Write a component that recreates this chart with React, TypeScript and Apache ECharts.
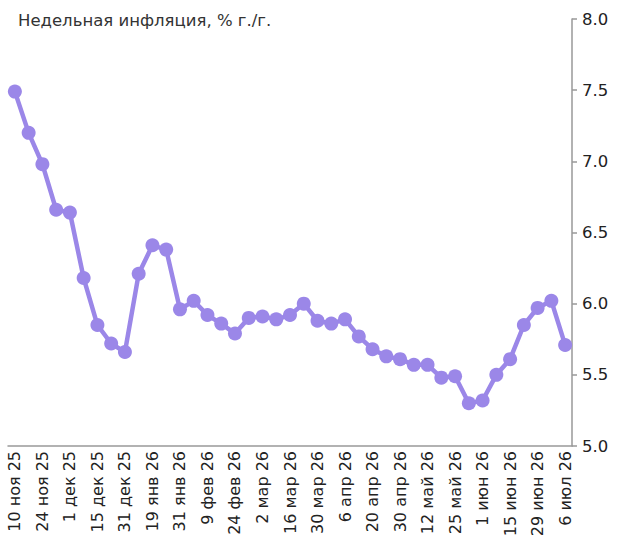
import React, { useEffect, useRef } from "react";
import * as echarts from "echarts";

const TITLE = "Недельная инфляция, % г./г.";

const categories = [
  "10 ноя 25", "17 ноя 25", "24 ноя 25", "27 ноя 25", "1 дек 25", "8 дек 25",
  "15 дек 25", "22 дек 25", "31 дек 25", "12 янв 26", "19 янв 26", "26 янв 26",
  "31 янв 26", "3 фев 26", "9 фев 26", "16 фев 26", "24 фев 26", "27 фев 26",
  "2 мар 26", "9 мар 26", "16 мар 26", "23 мар 26", "30 мар 26", "3 апр 26",
  "6 апр 26", "13 апр 26", "20 апр 26", "27 апр 26", "30 апр 26", "6 май 26",
  "12 май 26", "18 май 26", "25 май 26", "29 май 26", "1 июн 26", "8 июн 26",
  "15 июн 26", "22 июн 26", "29 июн 26", "2 июл 26", "6 июл 26",
];

const inflation = [
  7.49, 7.2, 6.98, 6.66, 6.64, 6.18, 5.85, 5.72, 5.66, 6.21, 6.41, 6.38,
  5.96, 6.02, 5.92, 5.86, 5.79, 5.9, 5.91, 5.89, 5.92, 6.0, 5.88, 5.86,
  5.89, 5.77, 5.68, 5.63, 5.61, 5.57, 5.57, 5.48, 5.49, 5.3, 5.32, 5.5,
  5.61, 5.85, 5.97, 6.02, 5.71,
];

const yTicks = { min: 5, max: 8, interval: 0.5 };

const FONT = "DejaVu Sans";

export default function App() {
  const ref = useRef<HTMLDivElement>(null);
  useEffect(() => {
    if (!ref.current) return;
    const chart = echarts.init(ref.current, null, { renderer: "svg" });
    chart.setOption({
      animation: false,
      backgroundColor: "#ffffff",
      title: {
        text: TITLE,
        left: 13,
        top: 7,
        textStyle: { fontFamily: FONT, fontSize: 16.5, fontWeight: "normal", color: "#333333" },
      },
      grid: { left: 8, right: 49, top: 19, bottom: 94, containLabel: false, outerBoundsMode: "none" },
      xAxis: {
        type: "category",
        data: categories,
        boundaryGap: true,
        axisLine: { lineStyle: { color: "#999999", width: 1.5 } },
        axisTick: { interval: 1, length: 5, lineStyle: { color: "#999999", width: 1.5 } },
        axisLabel: {
          interval: 1,
          rotate: 90,
          margin: 5,
          fontFamily: FONT,
          fontSize: 16,
          color: "#222222",
        },
        splitLine: { show: false },
      },
      yAxis: {
        type: "value",
        position: "right",
        min: yTicks.min,
        max: yTicks.max,
        interval: yTicks.interval,
        axisLine: { show: true, lineStyle: { color: "#999999", width: 1.5 } },
        axisTick: { show: true, length: 5, lineStyle: { color: "#999999", width: 1.5 } },
        axisLabel: {
          margin: 10,
          fontFamily: FONT,
          fontSize: 16.5,
          color: "#222222",
          formatter: (v: number) => v.toFixed(1),
        },
        splitLine: { show: false },
      },
      series: [
        {
          type: "line",
          data: inflation,
          symbol: "circle",
          symbolSize: 14,
          showSymbol: true,
          showAllSymbol: true,
          itemStyle: { color: "#9b87e8" },
          lineStyle: { color: "#9b87e8", width: 4.5 },
        },
      ],
    });
    return () => chart.dispose();
  }, []);
  return <div ref={ref} style={{ width: 621, height: 540, position: "absolute", left: 0, top: 0 }} />;
}
